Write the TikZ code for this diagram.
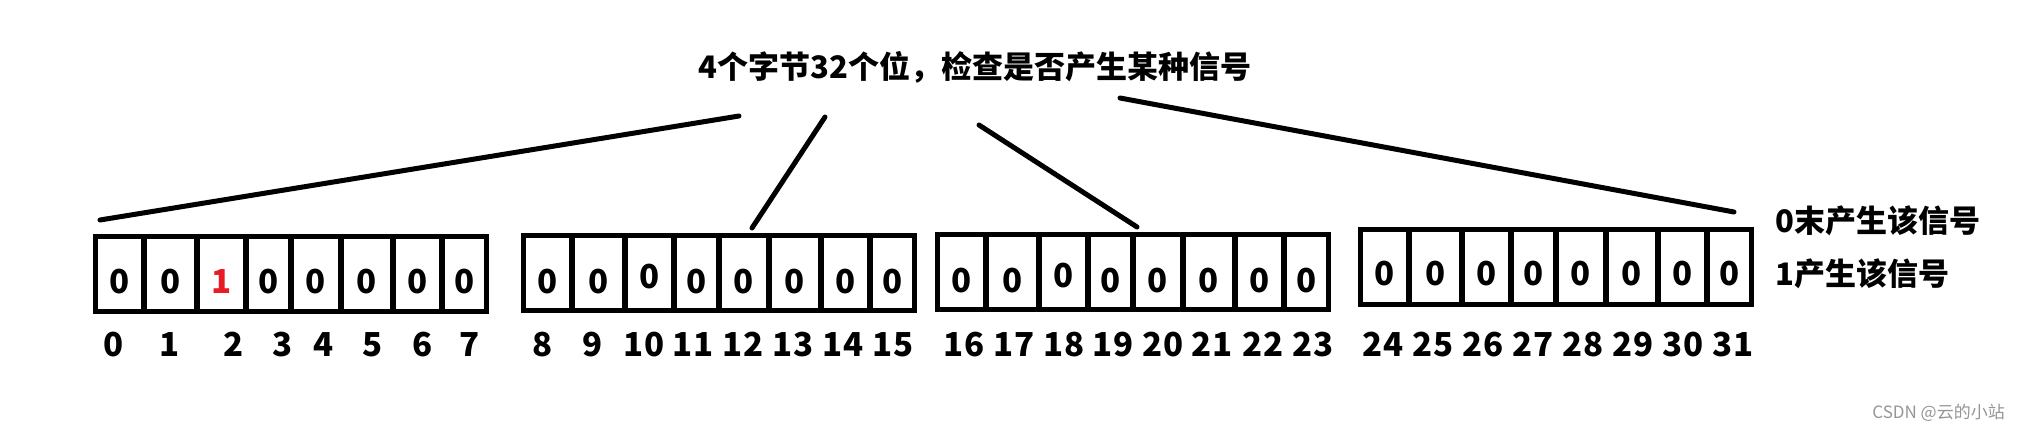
\documentclass[tikz,border=0pt]{standalone}
\usepackage{fontspec}
\setmainfont{Noto Sans CJK SC}
\definecolor{bitred}{RGB}{232,28,36}
\definecolor{wmgray}{RGB}{150,150,150}
\begin{document}
\begin{tikzpicture}[x=0.5pt,y=-0.5pt,
  font=\fontsize{15.5}{18}\selectfont\bfseries,
  cellbox/.style={draw=black,line width=2.6pt},
  bit/.style={anchor=base,inner sep=0pt,font=\fontsize{16.5}{19}\selectfont\bfseries},
  idx/.style={anchor=base,inner sep=0pt,font=\fontsize{16.5}{19}\selectfont\bfseries},
  legend/.style={anchor=base west,inner sep=0pt},
  conn/.style={draw=black,line width=2.5pt,line cap=round}]
\useasboundingbox[fill=white] (0,0) rectangle (2018,428);

% title
\node[anchor=base,inner sep=0pt] (title) at (975,78) {4个字节32个位，检查是否产生某种信号};

% byte groups
\foreach \g/\ox/\T/\by in {0/95.5/236.5/293, 1/523.5/235.5/293, 2/937.5/234.5/292, 3/1360.5/229.5/285}{
  \pgfmathsetmacro\B{\T+75}
  \foreach \a/\b [count=\i from 0] in {0/48.5, 48.5/101.5, 101.5/150.5, 150.5/195.5, 195.5/245.5, 245.5/297.5, 297.5/346.5, 346.5/391}{
    \pgfmathtruncatemacro\k{8*\g+\i}
    \pgfmathsetmacro\yy{(\k==10||\k==18)?\by-5:\by}
    \draw[cellbox] (\ox+\a,\T) rectangle (\ox+\b,\B);
    \ifnum\k=2
      \node[bit,text=bitred] (b\k) at ({\ox+(\a+\b)/2},\yy) {1};
    \else
      \node[bit] (b\k) at ({\ox+(\a+\b)/2},\yy) {0};
    \fi
  }
}

% index labels
\foreach \x [count=\i from 0] in {114,170,234,283,324,373,423,470,543,593,644,693,743,793,843,893,964,1014,1064,1113,1163,1212,1263,1313,1383,1433,1483,1533,1583,1633,1683,1733}{
  \node[idx] (n\i) at (\x,356) {\i};
}

% legend
\node[legend] (leg0) at (1775,232) {0末产生该信号};
\node[legend] (leg1) at (1775,285) {1产生该信号};

% connectors
\coordinate (a1) at (739,116);
\coordinate (e1) at (100,220);
\coordinate (a2) at (825,117);
\coordinate (e2) at (752,228);
\coordinate (a3) at (979,125);
\coordinate (e3) at (1137,227);
\coordinate (a4) at (1120,98);
\coordinate (e4) at (1734,212);
\draw[conn] (a1) -- (e1);
\draw[conn] (a2) -- (e2);
\draw[conn] (a3) -- (e3);
\draw[conn] (a4) -- (e4);

% watermark
\node[anchor=base west,inner sep=0pt,font=\fontsize{8.5}{10}\selectfont\mdseries,text=wmgray] (wm) at (1872,418) {CSDN @云的小站};
\end{tikzpicture}
\end{document}
